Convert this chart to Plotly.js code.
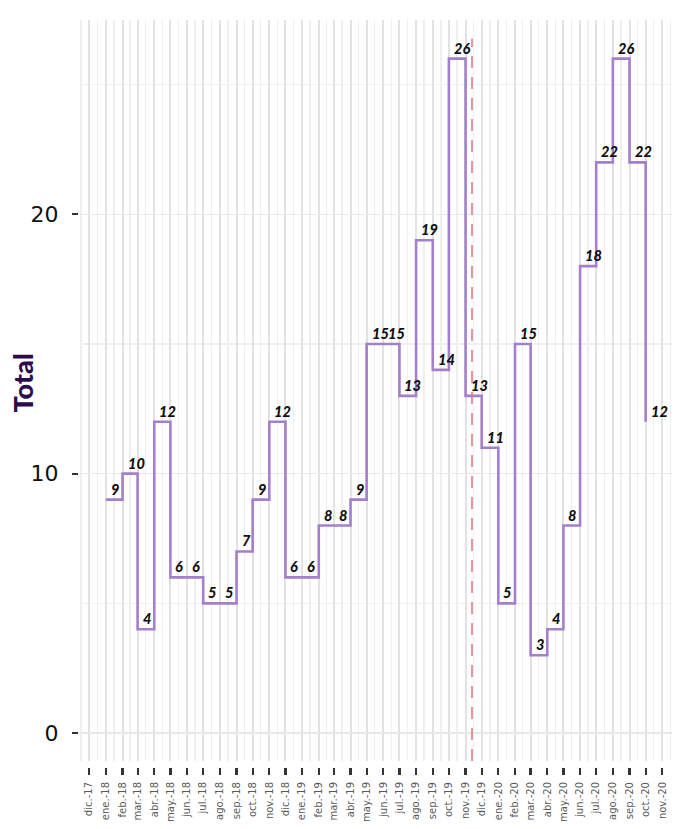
<!DOCTYPE html>
<html>
<head>
<meta charset="utf-8">
<script src="https://cdn.plot.ly/plotly-3.0.1.min.js"></script>
<style>html,body{margin:0;padding:0;background:#fff;}#chart{width:677px;height:829px;}</style>
</head>
<body>
<div id="chart"></div>
<script>
// Months (first day of month) and monthly totals
const months = [
  "2018-01-01","2018-02-01","2018-03-01","2018-04-01","2018-05-01","2018-06-01",
  "2018-07-01","2018-08-01","2018-09-01","2018-10-01","2018-11-01","2018-12-01",
  "2019-01-01","2019-02-01","2019-03-01","2019-04-01","2019-05-01","2019-06-01",
  "2019-07-01","2019-08-01","2019-09-01","2019-10-01","2019-11-01","2019-12-01",
  "2020-01-01","2020-02-01","2020-03-01","2020-04-01","2020-05-01","2020-06-01",
  "2020-07-01","2020-08-01","2020-09-01","2020-10-01"
];
const totals = [9,10,4,12,6,6,5,5,7,9,12,6,6,8,8,9,15,15,13,19,14,26,13,11,5,15,3,4,8,18,22,26,22,12];

// Tick labels (dic.-17 .. nov.-20)
const tickLabels = [
  "dic.-17","ene.-18","feb.-18","mar.-18","abr.-18","may.-18","jun.-18","jul.-18","ago.-18","sep.-18","oct.-18","nov.-18",
  "dic.-18","ene.-19","feb.-19","mar.-19","abr.-19","may.-19","jun.-19","jul.-19","ago.-19","sep.-19","oct.-19","nov.-19",
  "dic.-19","ene.-20","feb.-20","mar.-20","abr.-20","may.-20","jun.-20","jul.-20","ago.-20","sep.-20","oct.-20","nov.-20"
];
const yTickVals = [0, 10, 20];
const yMinorVals = [5, 15, 25];
const firstTickMonth = "2017-12-01";
const eventDate = "2019-11-13";
const yTitle = "Total";

function addMonths(iso, n){
  const d = new Date(iso + "T00:00:00Z");
  d.setUTCMonth(d.getUTCMonth() + n);
  return d.toISOString().slice(0,10);
}
const tickDates = tickLabels.map((_, i) => addMonths(firstTickMonth, i));
const minorVals = [];
for (let i = -1; i < tickDates.length; i++) {
  const a = new Date(addMonths(firstTickMonth, i) + "T00:00:00Z").getTime();
  const b = new Date(addMonths(firstTickMonth, i + 1) + "T00:00:00Z").getTime();
  minorVals.push(new Date((a + b) / 2).toISOString().slice(0,10));
}

const trace = {
  x: months, y: totals, type: "scatter", mode: "lines",
  line: {shape: "hv", color: "#a47fcb", width: 2.6},
  hoverinfo: "skip", showlegend: false
};

const annotations = months.map((m, i) => ({
  x: m, y: totals[i], xref: "x", yref: "y", text: String(totals[i]),
  showarrow: false, xanchor: "left", yanchor: "bottom", xshift: 3, yshift: 0,
  font: {family: "Lato, 'DejaVu Sans', sans-serif", size: 14.5, color: "#111", weight: 900, style: "italic"}
}));
annotations.push({
  text: yTitle, xref: "paper", yref: "paper", x: -0.0953, y: 0.514,
  xanchor: "center", yanchor: "middle", textangle: -90, showarrow: false,
  font: {family: "Lato, 'DejaVu Sans', sans-serif", size: 27, color: "#2e0a50", weight: 900}
});

const layout = {
  width: 677, height: 829,
  margin: {l: 79, r: 5, t: 20, b: 62},
  paper_bgcolor: "#ffffff", plot_bgcolor: "#ffffff",
  showlegend: false,
  xaxis: {
    type: "date", range: ["2017-11-12", "2020-11-19"],
    anchor: "free", position: 0,
    tickmode: "array", tickvals: tickDates, ticktext: tickLabels,
    tickangle: -90, ticks: "outside", ticklen: 7, tickwidth: 2.2, tickcolor: "#333333",
    ticklabelstandoff: 3,
    tickfont: {family: "'DejaVu Sans', sans-serif", size: 10, color: "#5a5a5a"},
    showgrid: true, gridcolor: "#e2e2e2", gridwidth: 2,
    minor: {tickmode: "array", tickvals: minorVals, showgrid: true, gridcolor: "#efefef", gridwidth: 1.5},
    zeroline: false, showline: false, fixedrange: true
  },
  yaxis: {
    domain: [0.008, 1],
    range: [-1.08, 27.49],
    tickmode: "array", tickvals: yTickVals, ticktext: yTickVals.map(String),
    ticks: "outside", ticklen: 6, tickwidth: 2.2, tickcolor: "#333333",
    ticklabelstandoff: 9,
    tickfont: {family: "'DejaVu Sans', sans-serif", size: 22, color: "#111111"},
    showgrid: true, gridcolor: "#e8e8e8", gridwidth: 1.5,
    minor: {tickmode: "array", tickvals: yMinorVals, showgrid: true, gridcolor: "#f0f0f0", gridwidth: 1.5},
    zeroline: false, showline: false
  },
  shapes: [{
    type: "line", xref: "x", yref: "paper", x0: eventDate, x1: eventDate, y0: 0.008, y1: 0.975,
    line: {color: "#e07c86", width: 1.6, dash: "12px,9px"}
  }],
  annotations: annotations
};

Plotly.newPlot("chart", [trace], layout, {displayModeBar: false, staticPlot: true});
</script>
</body>
</html>
